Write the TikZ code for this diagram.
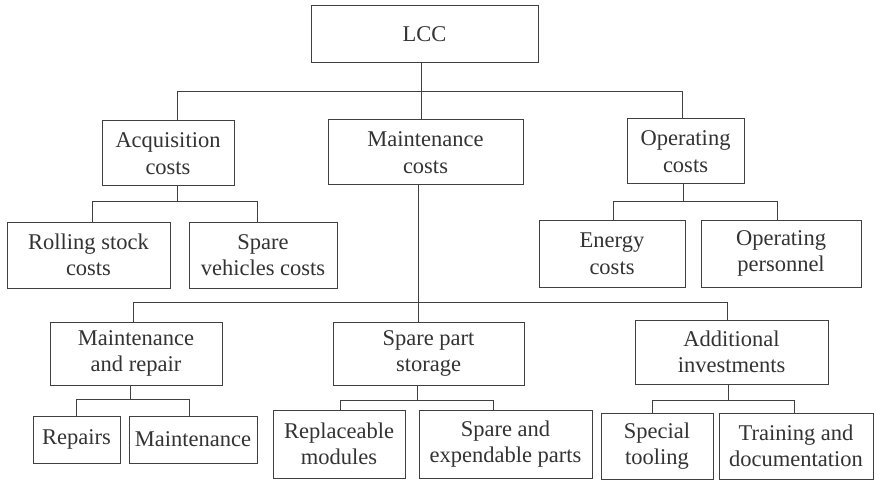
\documentclass[tikz,border=0pt]{standalone}
\usepackage{fontspec}
\setmainfont{Liberation Serif}
\begin{document}
\begin{tikzpicture}[x=1pt,y=-1pt,
  box/.style={draw=black!75,line width=1pt,text=black!80,align=center,inner sep=0pt,
    font=\fontsize{22.5}{26.5}\selectfont},
  link/.style={draw=black!75,line width=1pt}]
\useasboundingbox[fill=white] (0,0) rectangle (875,481);
% level 0
\node[box,minimum width=227pt,minimum height=57pt] (lcc) at (424.5,34.5) {LCC};
% level 1
\node[box,minimum width=132pt,minimum height=65pt] (acq) at (168,153.5) {Acquisition\\costs};
\node[box,minimum width=195pt,minimum height=65pt] (mc) at (425.5,152.5) {Maintenance\\costs};
\node[box,minimum width=117pt,minimum height=65pt] (oc) at (685.5,151.5) {Operating\\costs};
% level 2
\node[box,minimum width=163pt,minimum height=66pt] (rs) at (88.5,255) {Rolling stock\\costs};
\node[box,minimum width=148pt,minimum height=66pt] (sv) at (263,255) {Spare\\vehicles costs};
\node[box,minimum width=146pt,minimum height=67pt] (en) at (612,253.5) {Energy\\costs};
\node[box,minimum width=160pt,minimum height=67pt] (op) at (781,253.5) {Operating\\personnel};
% level 3
\node[box,minimum width=172pt,minimum height=63pt] (mr) at (136,353.5) {Maintenance\\and repair};
\node[box,minimum width=191pt,minimum height=63pt] (sp) at (428.5,353.5) {Spare part\\storage};
\node[box,minimum width=193pt,minimum height=64pt] (ai) at (731.5,352) {Additional\\investments};
% level 4
\node[box,minimum width=87pt,minimum height=47pt] (rep) at (76.5,439.5) {Repairs};
\node[box,minimum width=128pt,minimum height=47pt] (mnt) at (193,439.5) {Maintenance};
\node[box,minimum width=132pt,minimum height=68pt] (rm) at (339,444) {Replaceable\\modules};
\node[box,minimum width=173pt,minimum height=68pt] (se) at (505.5,444) {Spare and\\expendable parts};
\node[box,minimum width=112pt,minimum height=66pt] (st) at (657,446) {Special\\tooling};
\node[box,minimum width=154pt,minimum height=66pt] (td) at (796,446) {Training and\\documentation};
% bus coordinates
\coordinate (j0) at (421,92);
\coordinate (hA) at (177,92);
\coordinate (hO) at (682,92);
\coordinate (j1a) at (177,202);
\coordinate (l1a) at (92,202);
\coordinate (r1a) at (257,202);
\coordinate (j1b) at (683,202);
\coordinate (l1b) at (613,202);
\coordinate (r1b) at (777,202);
\coordinate (j2) at (418,302);
\coordinate (l2) at (133,302);
\coordinate (r2) at (727,302);
\coordinate (j3a) at (130,399);
\coordinate (l3a) at (76,399);
\coordinate (r3a) at (189,399);
\coordinate (j3b) at (417,400);
\coordinate (l3b) at (340,400);
\coordinate (r3b) at (493,400);
\coordinate (j3c) at (728,400);
\coordinate (l3c) at (652,400);
\coordinate (r3c) at (794,400);
% connectors level 0-1
\draw[link] (lcc.south -| j0) -- (mc.north -| j0);
\draw[link] (hA |- acq.north) -- (hA) -- (hO) -- (hO |- oc.north);
% level 1-2
\draw[link] (acq.south -| j1a) -- (j1a);
\draw[link] (l1a |- rs.north) -- (l1a) -- (r1a) -- (r1a |- sv.north);
\draw[link] (oc.south -| j1b) -- (j1b);
\draw[link] (l1b |- en.north) -- (l1b) -- (r1b) -- (r1b |- op.north);
% level 1-3
\draw[link] (mc.south -| j2) -- (sp.north -| j2);
\draw[link] (l2 |- mr.north) -- (l2) -- (r2) -- (r2 |- ai.north);
% level 3-4
\draw[link] (mr.south -| j3a) -- (j3a);
\draw[link] (l3a |- rep.north) -- (l3a) -- (r3a) -- (r3a |- mnt.north);
\draw[link] (sp.south -| j3b) -- (j3b);
\draw[link] (l3b |- rm.north) -- (l3b) -- (r3b) -- (r3b |- se.north);
\draw[link] (ai.south -| j3c) -- (j3c);
\draw[link] (l3c |- st.north) -- (l3c) -- (r3c) -- (r3c |- td.north);
\end{tikzpicture}
\end{document}
